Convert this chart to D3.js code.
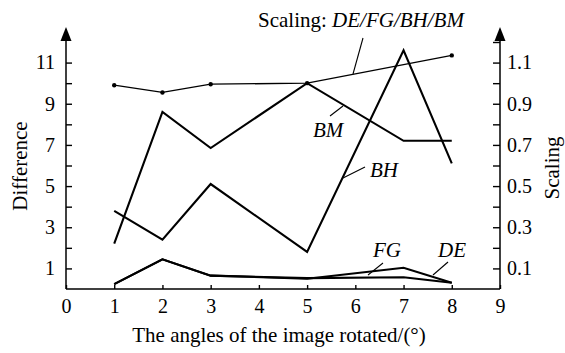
<!DOCTYPE html>
<html><head><meta charset="utf-8">
<script src="https://cdn.jsdelivr.net/npm/d3@7"></script>
<style>
html,body{margin:0;padding:0;background:#fff;}
svg text{font-family:"Liberation Serif","Times New Roman",Times,"DejaVu Serif",serif !important;fill:#000;}
</style></head>
<body><svg id="c" width="565" height="353"></svg>
<script>
const angles = [1, 2, 3, 5, 7, 8];
const BM = [2.2, 8.6, 6.85, 10.0, 7.2, 7.2];
const BH = [3.8, 2.4, 5.1, 1.8, 11.6, 6.1];
const FG = [0.24, 1.44, 0.65, 0.5, 1.03, 0.3];
const DE = [0.24, 1.44, 0.65, 0.53, 0.57, 0.3];
const scalingAngles = [1, 2, 3, 5, 8];
const scaling = [0.99, 0.955, 0.995, 1.0, 1.135];
const xTicks = [0, 1, 2, 3, 4, 5, 6, 7, 8, 9];
const leftTicks = [1, 2, 3, 4, 5, 6, 7, 8, 9, 10, 11];
const rightTicks = [0.1, 0.2, 0.3, 0.4, 0.5, 0.6, 0.7, 0.8, 0.9, 1.0, 1.1, 1.2];

const FONT = '"Liberation Serif","Times New Roman",Times,"DejaVu Serif",serif';
const svg = d3.select("#c");
const x = d3.scaleLinear().domain([0, 9]).range([66, 500]);
const yL = d3.scaleLinear().domain([0, 12]).range([289, 42]);
const yR = d3.scaleLinear().domain([0, 1.2]).range([289, 42]);

function styleAxis(g, fs) {
  g.attr("font-family", FONT).attr("font-size", fs);
  g.select(".domain").remove();
  g.selectAll(".tick line").attr("stroke", "#000").attr("stroke-width", 1.4);
  g.selectAll("text").attr("font-size", fs).attr("fill", "#000").attr("font-family", FONT);
}

// axes
svg.append("g").attr("transform", `translate(${x(0)},0)`)
  .call(d3.axisLeft(yL).tickValues(leftTicks).tickSizeInner(-6).tickSizeOuter(0).tickPadding(11)
    .tickFormat(d => d % 2 === 1 ? d : ""))
  .call(g => styleAxis(g, 20));
svg.append("g").attr("transform", `translate(${x(9)},0)`)
  .call(d3.axisRight(yR).tickValues(rightTicks).tickSizeInner(-7).tickSizeOuter(0).tickPadding(7)
    .tickFormat(d => (Math.round(d * 10) % 2 === 1) ? d3.format(".1f")(d) : ""))
  .call(g => styleAxis(g, 20));
svg.append("g").attr("transform", `translate(0,${yL(0)})`)
  .call(d3.axisBottom(x).tickValues(xTicks).tickSizeInner(-4).tickSizeOuter(0).tickPadding(10))
  .call(g => styleAxis(g, 20));

// axis lines with arrows
const topY = 27;
const axisLines = svg.append("g").attr("stroke", "#000").attr("stroke-width", 1.5).attr("fill", "none");
axisLines.append("line").attr("x1", x(0)).attr("x2", x(9)).attr("y1", yL(0)).attr("y2", yL(0));
axisLines.append("line").attr("x1", x(0)).attr("x2", x(0)).attr("y1", yL(0)).attr("y2", topY + 8);
axisLines.append("line").attr("x1", x(9)).attr("x2", x(9)).attr("y1", yL(0)).attr("y2", topY + 8);
[x(0), x(9)].forEach(ax => {
  svg.append("path").attr("d", `M${ax},${topY} L${ax - 5.5},${topY + 14} L${ax + 5.5},${topY + 14} Z`).attr("fill", "#000");
});

// series lines
const lineL = d3.line().x((d, i) => x(angles[i])).y(d => yL(d));
const lineR = d3.line().x((d, i) => x(scalingAngles[i])).y(d => yR(d));
[DE, FG, BM, BH].forEach(s => {
  svg.append("path").datum(s).attr("d", lineL).attr("fill", "none")
    .attr("stroke", "#000").attr("stroke-width", 2.1).attr("stroke-linejoin", "miter");
});
svg.append("path").datum(scaling).attr("d", lineR).attr("fill", "none")
  .attr("stroke", "#000").attr("stroke-width", 1.3);
svg.selectAll(".sdot").data(scaling).enter().append("circle")
  .attr("cx", (d, i) => x(scalingAngles[i])).attr("cy", d => yR(d)).attr("r", 2.2).attr("fill", "#000");

// annotations
const ann = svg.append("g").attr("font-family", FONT);
function leader(x1, y1, x2, y2) {
  ann.append("line").attr("x1", x1).attr("y1", y1).attr("x2", x2).attr("y2", y2)
    .attr("stroke", "#000").attr("stroke-width", 1.1);
}
function label(tx, ty, s) {
  ann.append("text").attr("x", tx).attr("y", ty).attr("font-size", 21).attr("font-family", FONT)
    .attr("font-style", "italic").text(s);
}
const t = ann.append("text").attr("x", 258).attr("y", 26.5).attr("font-size", 21).attr("font-family", FONT);
t.append("tspan").text("Scaling: ");
t.append("tspan").attr("font-style", "italic").text("DE/FG/BH/BM");
leader(363, 38, 353, 74);
label(313, 137, "BM");
leader(330, 116, 343, 106);
label(370, 177, "BH");
leader(365, 167, 343, 178);
label(373, 257, "FG");
leader(383, 263, 368, 275);
label(438, 257, "DE");
leader(448, 262, 433, 275);

// axis titles
svg.append("text").attr("x", 279).attr("y", 342).attr("text-anchor", "middle").attr("font-size", 21)
  .attr("font-family", FONT).text("The angles of the image rotated/(°)");
svg.append("text").attr("transform", "translate(27,166) rotate(-90)").attr("text-anchor", "middle")
  .attr("font-size", 21).attr("font-family", FONT).text("Difference");
svg.append("text").attr("transform", "translate(559,168) rotate(-90)").attr("text-anchor", "middle")
  .attr("font-size", 21).attr("font-family", FONT).text("Scaling");
</script></body></html>
